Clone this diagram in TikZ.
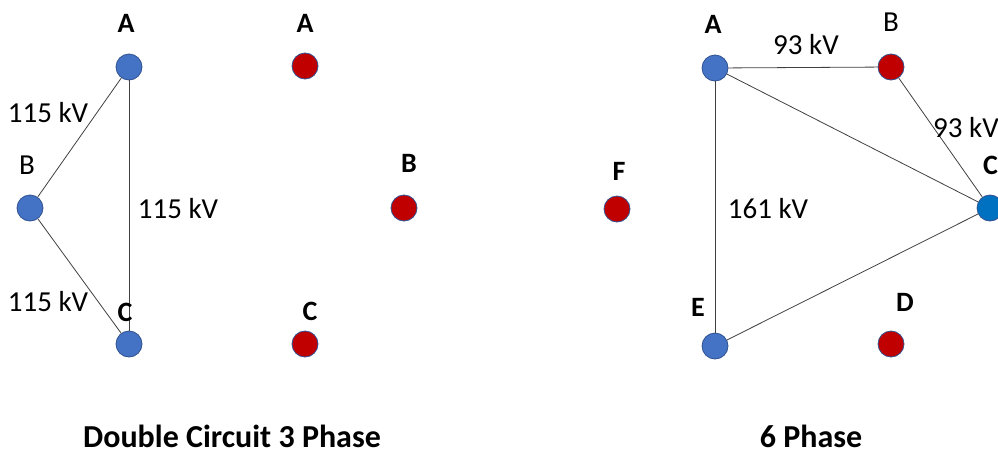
\documentclass[tikz,border=0pt]{standalone}
\usepackage{fontspec}
\setmainfont{Carlito}
\usepackage{xcolor}
\definecolor{busblue}{HTML}{4472C4}
\definecolor{busred}{HTML}{C00000}
\definecolor{busedge}{HTML}{2F528F}
\definecolor{cblue}{HTML}{0070C0}
\definecolor{wire}{HTML}{404040}

\tikzset{
  bluebus/.style={circle, fill=busblue, draw=busedge, line width=0.8pt, minimum size=26pt, inner sep=0pt},
  redbus/.style={circle, fill=busred, draw=busedge, line width=0.8pt, minimum size=26pt, inner sep=0pt},
  wireline/.style={draw=wire, line width=0.8pt},
  lbl/.style={inner sep=0pt, font=\fontsize{29}{31}\selectfont},
  blbl/.style={lbl, font=\fontsize{28}{30}\selectfont\bfseries},
  ttl/.style={inner sep=0pt, font=\fontsize{32}{34}\selectfont\bfseries}
}

\begin{document}
\begin{tikzpicture}[x=1pt,y=-1pt]
\useasboundingbox (0,0) rectangle (998,453);

% double circuit 3 phase
\node[bluebus] (la) at (129,67) {};
\node[bluebus] (lb) at (30,208) {};
\node[bluebus] (lc) at (129,344) {};
\node[redbus] (ra) at (305,66) {};
\node[redbus] (rb) at (404,208) {};
\node[redbus] (rc) at (305,344) {};

\draw[wireline] (la) -- (lb);
\draw[wireline] (la) -- (lc);
\draw[wireline] (lb) -- (lc);

\node[blbl] (lalbl) at (126,23) {A};
\node[lbl] (lblbl) at (27,165) {B};
\node[blbl] (lclbl) at (125,312) {C};
\node[blbl] (ralbl) at (305,23) {A};
\node[blbl] (rblbl) at (409,163) {B};
\node[blbl] (rclbl) at (310,311) {C};

\node[lbl] (kvab) at (48,113) {115 kV};
\node[lbl] (kvbc) at (48,302) {115 kV};
\node[lbl] (kvac) at (178,209) {115 kV};

% 6 phase
\node[redbus] (sf) at (617,209) {};
\node[bluebus] (sa) at (715,68) {};
\node[redbus] (sb) at (891,67) {};
\node[bluebus, fill=cblue] (sc) at (990,208) {};
\node[redbus] (sd) at (891,344) {};
\node[bluebus] (se) at (715,346) {};

\draw[wireline] (sa) -- (sb);
\draw[wireline] (sa) -- (sc);
\draw[wireline] (sb) -- (sc);
\draw[wireline] (sa) -- (se);
\draw[wireline] (se) -- (sc);

\node[blbl] (sflbl) at (619,171) {F};
\node[blbl] (salbl) at (713,24) {A};
\node[lbl] (sblbl) at (891,22) {B};
\node[blbl, anchor=west] (sclbl) at (983,165) {C};
\node[blbl] (sdlbl) at (905,302) {D};
\node[blbl] (selbl) at (698,307) {E};

\node[lbl] (kvsab) at (806,45) {93 kV};
\node[lbl, anchor=west] (kvsbc) at (933,128) {93 kV};
\node[lbl] (kvsae) at (768,209) {161 kV};

\node[ttl] (ttlleft) at (232,436) {Double Circuit 3 Phase};
\node[ttl] (ttlright) at (811,436) {6 Phase};
\end{tikzpicture}
\end{document}
